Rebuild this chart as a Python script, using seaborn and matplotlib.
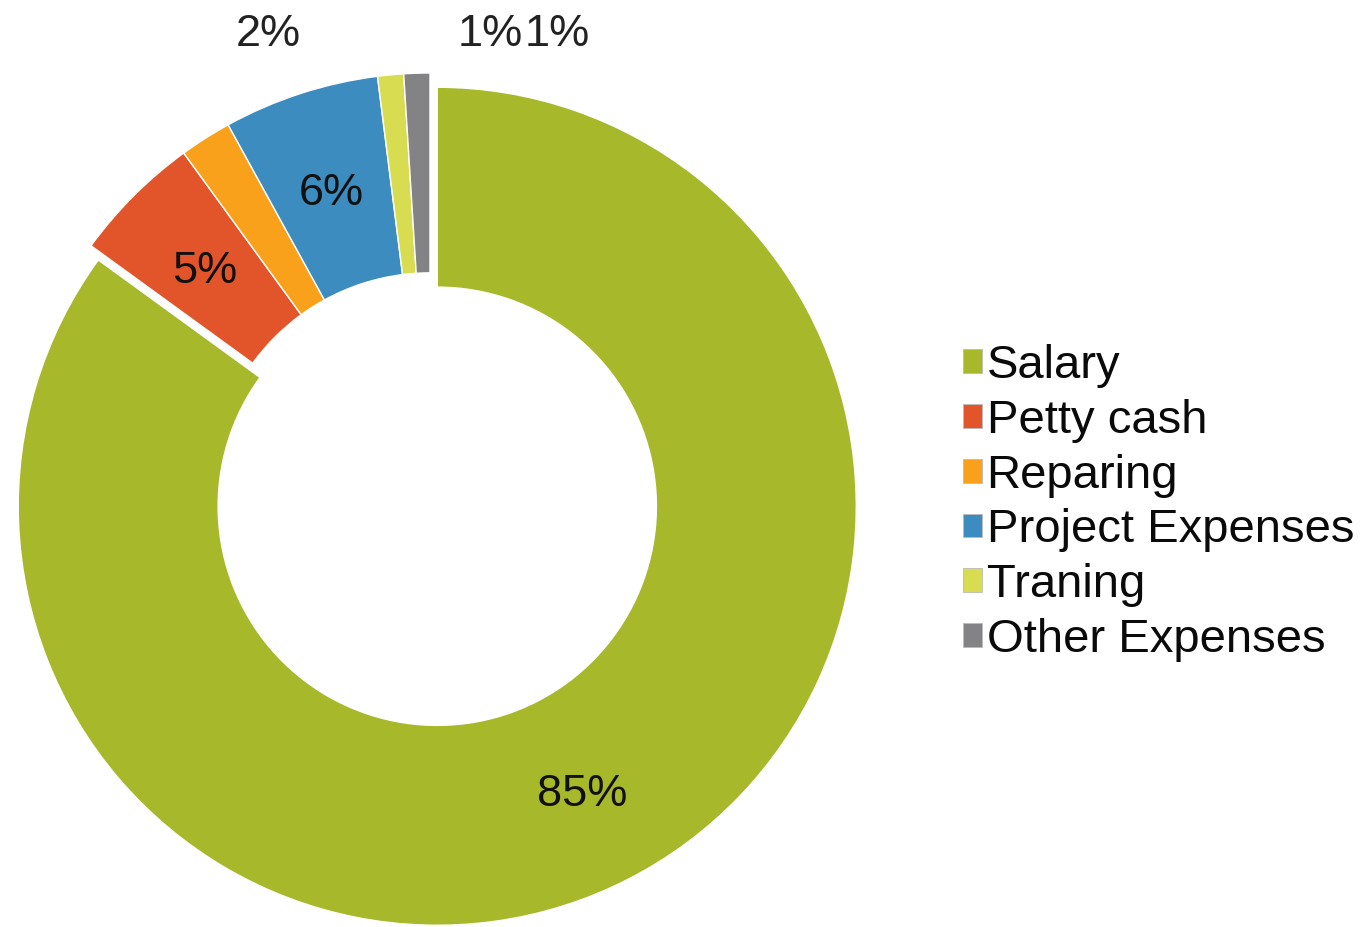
import matplotlib
matplotlib.use("Agg")
import matplotlib.pyplot as plt
import seaborn as sns

# ---- data ----
categories = ["Salary", "Petty cash", "Reparing", "Project Expenses", "Traning", "Other Expenses"]
values = [85, 5, 2, 6, 1, 1]
colors = ["#A7B82A", "#E2552B", "#F9A11B", "#3D8CBF", "#D8DC50", "#838385"]

# labels shown outside the ring (index -> position in radius units)
outside_label_idx = [2, 4, 5]
outside_label_pos = [(-0.385, 1.091), (0.143, 1.091), (0.303, 1.091)]

sns.set_theme(style="white")
plt.rcParams["font.family"] = ["Liberation Sans", "DejaVu Sans"]

W, H, DPI = 1368, 927, 100
fig = plt.figure(figsize=(W / DPI, H / DPI), dpi=DPI)
ax = fig.add_axes([0, 0, 1, 1])

R = 419.0          # outer radius in pixels
cx, cy = 430.0, 492.0  # pie centre in pixels (from top-left)

explode = [16 / R, 0, 0, 0, 0, 0]
wedges, texts, autotexts = ax.pie(
    values,
    colors=colors,
    startangle=90,
    counterclock=False,
    explode=explode,
    radius=1.0,
    autopct="%1.0f%%",
    pctdistance=0.76,
    wedgeprops=dict(width=0.477, edgecolor="white", linewidth=1.0),
    textprops=dict(fontsize=32.5, color="#111111"),
)

for i, t in enumerate(autotexts):
    if i in outside_label_idx:
        t.set_position(outside_label_pos[outside_label_idx.index(i)])
        t.set_color("#222222")
    else:
        t.set_va("center_baseline")

ax.set_xlim(-cx / R, (W - cx) / R)
ax.set_ylim((cy - H) / R, cy / R)
ax.set_aspect("equal", adjustable="box")
ax.axis("off")

leg = fig.legend(
    wedges, categories,
    loc="center left",
    bbox_to_anchor=(963 / W, 1 - 503 / H),
    frameon=False,
    fontsize=34,
    handlelength=0.40,
    handleheight=0.40,
    handletextpad=0.1,
    labelspacing=0.23,
    borderpad=0,
    borderaxespad=0,
    labelcolor="#0a0a0a",
)
for h in leg.legend_handles:
    h.set_edgecolor("#bbbbbb")
    h.set_linewidth(0.6)

fig.savefig("out.png", dpi=DPI)
